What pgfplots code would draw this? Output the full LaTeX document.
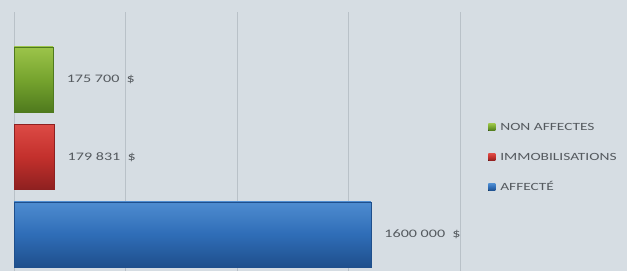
\documentclass[border=0pt]{standalone}
\usepackage{fontspec}
\setmainfont{Carlito}[FakeStretch=1.4]
\usepackage{pgfplots}
\pgfplotsset{compat=1.18}
\definecolor{bg}{HTML}{D6DDE3}
\definecolor{gridc}{HTML}{B9C1C8}
\definecolor{txt}{HTML}{555A5F}
\definecolor{bluehi}{HTML}{4E8CD0}
\definecolor{bluemid}{HTML}{2F6DB7}
\definecolor{bluelo}{HTML}{1F4F8C}
\definecolor{redhi}{HTML}{DC4A45}
\definecolor{redmid}{HTML}{C3302C}
\definecolor{redlo}{HTML}{8E2020}
\definecolor{greenhi}{HTML}{9CC44A}
\definecolor{greenmid}{HTML}{76A42E}
\definecolor{greenlo}{HTML}{4F7A1E}
\begin{document}
\begin{tikzpicture}
\useasboundingbox (0bp,0bp) rectangle (627bp,271bp);
\fill[bg] (0bp,0bp) rectangle (627bp,271bp);
\begin{axis}[
  at={(14bp,0bp)}, anchor=south west,
  scale only axis, width=446bp, height=259bp,
  xmin=0, xmax=2000000, ymin=-0.471, ymax=2.871,
  axis line style={draw=none},
  major tick length=0pt,
  scaled x ticks=false,
  xtick={0,500000,1000000,1500000,2000000},
  xticklabels={}, ytick=\empty,
  xmajorgrids, grid style={gridc, line width=0.8bp},
  xbar, bar width=65bp, bar shift=0pt,
  point meta=explicit symbolic,
  nodes near coords,
  nodes near coords style={anchor=west, xshift=10bp, text=txt, font=\fontsize{11.5bp}{13bp}\selectfont},
  reverse legend,
  legend cell align=left,
  legend style={at={(1.063,0.44)}, anchor=west, draw=none, fill=none,
    font=\fontsize{11bp}{13bp}\selectfont, text=txt, row sep=19bp,
    inner xsep=0pt, inner ysep=0pt,
    nodes={text height=8bp, text depth=1bp, inner sep=1bp}},
  legend image code/.code={\fill[#1, draw=none] (0bp,-3.5bp) rectangle (7bp,3.5bp); \path[draw=none, fill=none, shading=none] (0bp,0bp) -- (11bp,0bp);},
]
\addplot[draw=bluelo, line width=0.6bp, top color=bluehi, bottom color=bluelo, middle color=bluemid]
  coordinates {(1600000,0) [1600 000\ \ \$]};
\addlegendentry{AFFECTÉ}
\addplot[draw=redlo, line width=0.6bp, top color=redhi, bottom color=redlo, middle color=redmid]
  coordinates {(179831,1) [179 831\ \ \$]};
\addlegendentry{IMMOBILISATIONS}
\addplot[draw=greenlo, line width=0.6bp, top color=greenhi, bottom color=greenlo, middle color=greenmid]
  coordinates {(175700,2) [175 700\ \ \$]};
\addlegendentry{NON AFFECTES}
\end{axis}
\end{tikzpicture}
\end{document}
